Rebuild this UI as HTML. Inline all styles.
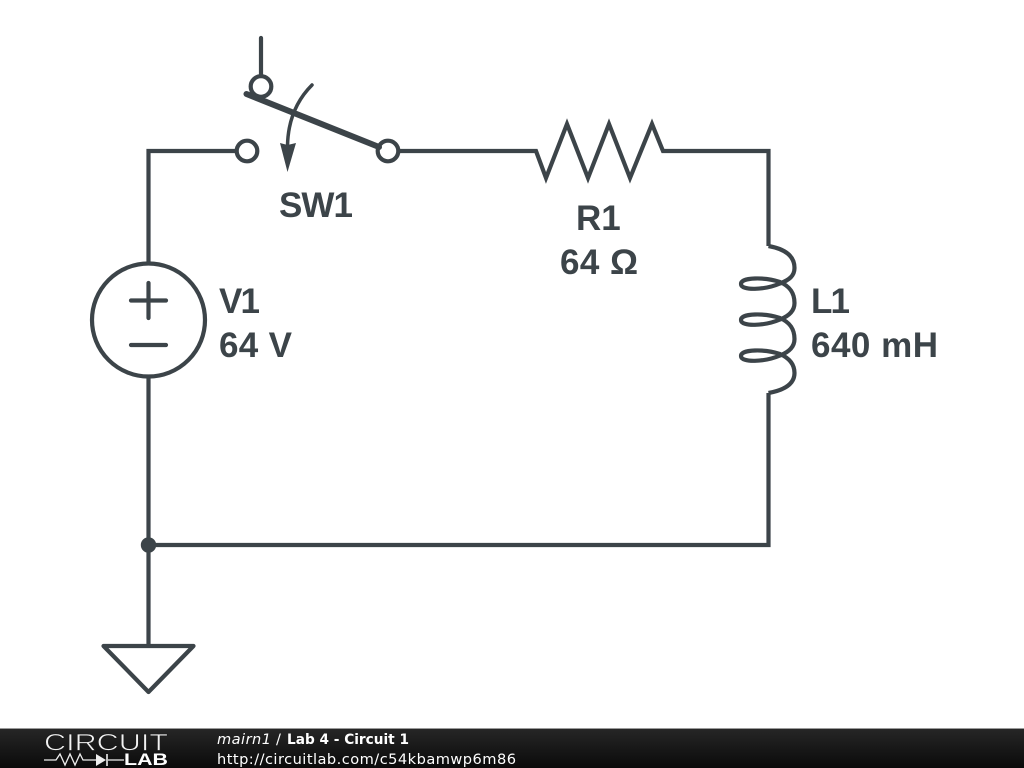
<!DOCTYPE html>
<html><head><meta charset="utf-8"><style>
html,body{margin:0;padding:0;background:#fff;width:1024px;height:768px;overflow:hidden}
svg{display:block}
.t{font-family:"Liberation Sans",sans-serif;font-weight:bold;font-size:35px;fill:#3c4449}
.f{font-family:"DejaVu Sans",sans-serif;font-size:14.6px;fill:#fff}
</style></head><body>
<svg width="1024" height="768" viewBox="0 0 1024 768" xmlns="http://www.w3.org/2000/svg">
<defs><linearGradient id="g" x1="0" y1="0" x2="0" y2="1"><stop offset="0" stop-color="#262626"/><stop offset="1" stop-color="#0a0a0a"/></linearGradient></defs>
<g fill="none" stroke="#3c4449" stroke-width="4.200" stroke-linejoin="miter">
<path d="M236 151H148.500V263M148.500 377V645M148.500 545H768.500V393M768.500 246V151H663L652 124L630 178L609 124L588 178L567 124L546 178L536 151H399"/>
<path stroke-linecap="round" d="M261 38V75"/>
<circle cx="148.500" cy="320" r="56.500"/>
<path stroke-linecap="round" d="M131 300.500H166M148.500 283V318M131 345H166"/>
<circle cx="247" cy="151" r="10.300"/>
<circle cx="388" cy="151" r="10.300"/>
<circle cx="261" cy="86.500" r="10.300"/>
<path stroke-width="6" stroke-linecap="round" d="M246.500 94L379 147"/>
<path stroke-width="3.500" stroke-linecap="round" d="M312 85C298 99 288 118 287.500 146"/>
<path d="M768.500 246C785 249 794.500 256 794.500 268C794.500 276 789 280 780 283.500C765 290 741 291 741 284C741 277 765 277 780 282C789 286 794.500 292 794.500 303C794.500 311 789 316 780 319.500C765 326 741 327 741 320C741 313 765 313 780 318C789 322 794.500 328 794.500 339C794.500 347 789 352 780 355.500C765 362 741 363 741 356C741 349 765 349 780 354C789 358 794.500 364 794.500 373C794.500 384 785 390 768.500 393"/>
<path stroke-linejoin="round" d="M103.500 646H193.500L148.500 692Z"/>
</g>
<path fill="#3c4449" d="M280 143L287.500 145L296 143L287.500 172Z"/>
<circle cx="148.500" cy="545" r="7.700" fill="#3c4449"/>
<text class="t" x="279" y="217" textLength="74">SW1</text>
<text class="t" x="576" y="230">R1</text>
<text class="t" x="560" y="274" textLength="78">64 Ω</text>
<text class="t" x="219" y="313" textLength="41">V1</text>
<text class="t" x="219" y="357" textLength="73">64 V</text>
<text class="t" x="811" y="313" textLength="39">L1</text>
<text class="t" x="811" y="357" textLength="127">640 mH</text>
<rect x="0" y="728" width="1024" height="1" fill="#9a9a9a"/>
<rect x="0" y="729" width="1024" height="39" fill="url(#g)"/>
<text x="44" y="750.500" font-family="Liberation Sans, sans-serif" font-size="24" fill="#f2f2f2" stroke="#1c1c1c" stroke-width="0.700" textLength="124" lengthAdjust="spacingAndGlyphs">CIRCUIT</text>
<path fill="none" stroke="#eee" stroke-width="1.300" d="M44 760H56L60 754L65 765L70 754L75 765L80 754L83 760H98M108 760H124"/>
<path fill="#eee" d="M96 754L106 760L96 766Z"/>
<path stroke="#eee" stroke-width="1.600" d="M107 754V766"/>
<text x="124" y="765" font-family="Liberation Sans, sans-serif" font-size="17" font-weight="bold" fill="#fff" textLength="44" lengthAdjust="spacingAndGlyphs">LAB</text>
<text class="f" x="217" y="744" font-style="italic" textLength="54">mairn1</text>
<text class="f" x="276" y="744">/</text>
<text class="f" x="287" y="744" font-weight="bold" textLength="122" lengthAdjust="spacingAndGlyphs">Lab 4 - Circuit 1</text>
<text class="f" x="217" y="764" textLength="299">http://circuitlab.com/c54kbamwp6m86</text>
</svg>
</body></html>
